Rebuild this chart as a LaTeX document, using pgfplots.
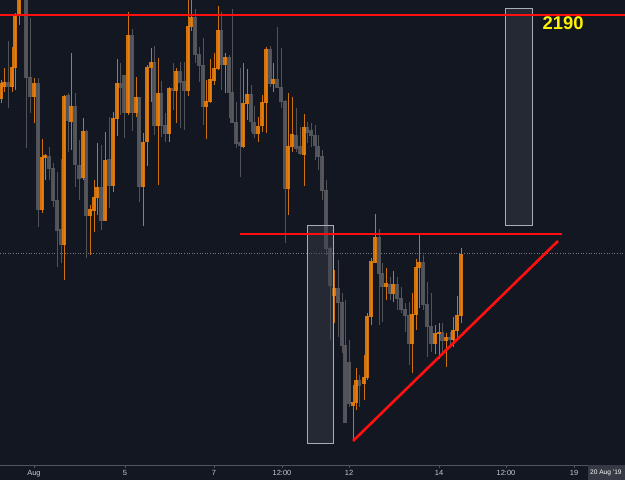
\documentclass[border=0pt]{standalone}
\usepackage{pgfplots}
\pgfplotsset{compat=1.18}
\usepackage{pgfplotstable}
\usepackage{fontspec}
\setmainfont{Liberation Sans}
\definecolor{bg}{RGB}{19,23,34}
\definecolor{cup}{RGB}{238,128,12}
\definecolor{cdn}{RGB}{88,90,96}
\definecolor{tv}{RGB}{200,203,210}
\definecolor{boxfill}{RGB}{60,64,76}
\definecolor{boxline}{RGB}{170,173,180}
\definecolor{axl}{RGB}{80,84,94}
\definecolor{lblbox}{RGB}{54,58,69}
\definecolor{tvred}{RGB}{255,15,15}

% x = pixel column, bt/bb = body top/bottom, wt/wb = wick top/bottom (pixel rows)
\pgfplotstableread{
x bt bb wt wb
1 84 99 80 103
4 83 87 68 92
12 68 87 47 92
15 15 68 13 90
19 -5 15 -5 25
34 84 97 78 123
42 158 209 139 213
45 156 158 154 180
64 96 244 95 280
71 107 121 53 150
83 132 178 118 180
90 209 215 205 255
94 197 210 180 232
97 187 197 143 215
105 160 220 132 220
113 118 185 112 192
117 84 118 59 136
128 36 113 12 115
136 98 113 77 117
143 142 186 133 226
147 68 142 65 166
151 63 68 48 102
158 94 126 58 185
169 89 134 87 142
176 72 91 68 123
188 27 91 -5 96
191 18 27 -5 31
206 102 107 80 139
210 80 102 59 103
214 69 81 53 85
218 31 69 6 70
225 58 65 53 93
243 104 146 63 148
247 95 104 69 120
258 126 133 117 142
262 103 126 95 132
266 50 103 47 133
273 80 84 63 92
288 147 188 93 215
292 135 147 97 152
304 127 154 114 186
334 288 295 270 323
353 402 405 385 440
356 380 402 368 410
364 377 383 355 400
367 316 377 313 380
371 261 316 258 325
375 237 262 214 263
386 283 286 268 300
393 284 293 271 302
412 314 343 293 373
416 267 314 259 330
419 262 267 235 308
435 333 343 325 354
439 332 333 323 359
446 337 340 333 367
453 330 339 317 347
457 315 330 296 337
461 254 315 248 323
}\upc

\pgfplotstableread{
x bt bb wt wb
8 83 87 41 108
26 -5 78 -5 148
30 78 97 18 113
38 84 209 78 227
49 156 168 147 180
53 168 200 163 207
57 200 230 172 267
61 229 244 159 263
68 96 121 93 152
75 107 165 93 187
79 165 178 140 200
86 132 215 130 258
101 187 220 145 230
109 160 185 117 208
120 84 88 63 115
124 76 113 75 138
132 36 113 29 131
139 98 186 97 202
154 63 126 46 135
161 94 126 81 137
165 126 134 113 142
173 89 91 63 110
180 72 83 62 128
184 82 91 62 130
195 18 55 9 63
199 55 66 47 82
203 66 107 38 125
221 31 65 12 90
229 58 93 55 118
232 93 123 9 123
236 122 143 102 148
240 143 146 68 177
251 95 122 85 132
254 122 133 106 138
270 50 84 46 87
277 80 88 27 88
281 88 102 48 108
285 102 188 100 243
296 135 148 108 152
300 147 154 127 155
307 127 132 122 143
311 131 136 123 147
315 136 146 125 160
318 146 156 135 170
322 156 190 150 200
326 190 248 180 255
330 248 285 247 340
338 288 302 260 337
342 302 345 293 353
345 345 422 300 423
349 362 403 340 407
359 380 385 375 407
379 237 273 229 325
382 273 286 263 322
390 284 293 277 300
397 284 298 277 310
401 298 309 287 313
405 309 315 303 332
409 315 343 302 365
423 262 304 255 310
427 304 326 282 357
431 326 343 293 352
442 332 340 323 353
450 337 339 332 348
}\dnc

\begin{document}
\begin{tikzpicture}
\useasboundingbox (0,-15bp) rectangle (625bp,465bp);
\fill[bg] (0,-15bp) rectangle (625bp,465bp);
\begin{axis}[
  at={(0,0)}, anchor=south west,
  scale only axis, width=625bp, height=465bp,
  xmin=0, xmax=625, ymin=0, ymax=465, y dir=reverse,
  axis line style={draw=none},
  ytick=\empty,
  xtick={34,125,214,282,349,439,506,574},
  xticklabels={Aug,5,7,12:00,12,14,12:00,19},
  xtick pos=lower, xticklabel pos=lower,
  tick align=outside, major tick length=2.5bp,
  tick style={draw=axl, line width=0.8bp},
  xticklabel style={font=\fontsize{7.5}{8}\selectfont, text=tv, inner sep=2.6bp},
]
% current price dotted line
\draw[axl!80!white, dotted, line width=0.6bp] (axis cs:0,253) -- (axis cs:625,253);
% wicks
\addplot[draw=none, mark=none, forget plot,
  error bars/.cd, y dir=both, y explicit, error mark=none,
  error bar style={draw=cdn, line width=0.9bp, opacity=0.9}]
  table[x=x, y expr={(\thisrow{wt}+\thisrow{wb})/2}, y error expr={(\thisrow{wb}-\thisrow{wt})/2}] {\dnc};
\addplot[draw=none, mark=none, forget plot,
  error bars/.cd, y dir=both, y explicit, error mark=none,
  error bar style={draw=cup, line width=0.9bp, opacity=0.85}]
  table[x=x, y expr={(\thisrow{wt}+\thisrow{wb})/2}, y error expr={(\thisrow{wb}-\thisrow{wt})/2}] {\upc};
% bodies
\addplot[draw=none, mark=none, forget plot,
  error bars/.cd, y dir=both, y explicit, error mark=none,
  error bar style={draw=cdn, line width=3.4bp, opacity=0.9}]
  table[x=x, y expr={(\thisrow{bt}+\thisrow{bb})/2}, y error expr={(\thisrow{bb}-\thisrow{bt})/2+0.5}] {\dnc};
\addplot[draw=none, mark=none, forget plot,
  error bars/.cd, y dir=both, y explicit, error mark=none,
  error bar style={draw=cup, line width=3.4bp, opacity=0.88}]
  table[x=x, y expr={(\thisrow{bt}+\thisrow{bb})/2}, y error expr={(\thisrow{bb}-\thisrow{bt})/2+0.5}] {\upc};
% boxes
\filldraw[fill=boxfill, fill opacity=0.45, draw=boxline, line width=0.9bp] (axis cs:307,225) rectangle (axis cs:333,443);
\filldraw[fill=boxfill, fill opacity=0.45, draw=boxline, line width=0.9bp] (axis cs:505,8) rectangle (axis cs:532,225);
% red lines
\draw[tvred, line width=2.8bp] (axis cs:0,15) -- (axis cs:625,15);
\draw[tvred, line width=2.5bp] (axis cs:240,234) -- (axis cs:562,234);
\draw[tvred, line width=2.6bp] (axis cs:353,441) -- (axis cs:558,241);
\node[text=yellow, font=\fontsize{18.5}{19}\bfseries\selectfont] at (axis cs:563,23) {2190};
\end{axis}
\draw[axl, line width=0.9bp] (0,0) -- (625bp,0);
\fill[lblbox] (588bp,-15bp) rectangle (625bp,-0.5bp);
\node[anchor=west, text=white, font=\fontsize{6.6}{7}\selectfont, inner sep=0pt] at (590bp,-8bp) {20 Aug '19};
\end{tikzpicture}
\end{document}
